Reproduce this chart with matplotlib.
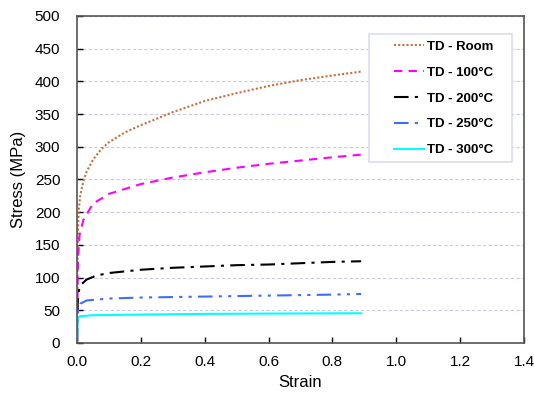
import matplotlib
matplotlib.use("Agg")
import matplotlib.pyplot as plt
from matplotlib.patches import Rectangle

plt.rcParams['font.family'] = ['Liberation Sans', 'DejaVu Sans']

room_x = [0, 0.002, 0.005, 0.01, 0.02, 0.03, 0.05, 0.075, 0.1, 0.15, 0.2, 0.3, 0.4, 0.5, 0.6, 0.7, 0.8, 0.89]
room_y = [0, 150, 200, 225, 248, 262, 280, 296, 307, 322, 333, 353, 370, 382, 393, 402, 409, 415]

t100_x = [0, 0.003, 0.008, 0.02, 0.05, 0.1, 0.2, 0.3, 0.4, 0.5, 0.6, 0.7, 0.8, 0.89]
t100_y = [0, 130, 165, 188, 213, 228, 243, 253, 261, 268, 274, 279, 284, 288]

t200_x = [0, 0.002, 0.005, 0.01, 0.03, 0.06, 0.1, 0.2, 0.3, 0.4, 0.5, 0.6, 0.7, 0.8, 0.89]
t200_y = [0, 60, 78, 88, 97, 103, 107, 112, 115, 117, 119, 120, 122, 124, 125]

t250_x = [0, 0.002, 0.005, 0.01, 0.03, 0.1, 0.2, 0.4, 0.6, 0.8, 0.89]
t250_y = [0, 45, 55, 60, 65, 68, 69.5, 71, 72.5, 74, 75]

t300_x = [0, 0.002, 0.01, 0.05, 0.2, 0.4, 0.6, 0.89]
t300_y = [0, 38, 41, 42.5, 43.5, 44.5, 45, 45.5]

labels = ['TD - Room', 'TD - 100°C', 'TD - 200°C', 'TD - 250°C', 'TD - 300°C']
x_ticks = [0.0, 0.2, 0.4, 0.6, 0.8, 1.0, 1.2, 1.4]
y_ticks = [0, 50, 100, 150, 200, 250, 300, 350, 400, 450, 500]

W, H = 534, 393
fig = plt.figure(figsize=(W/100, H/100), dpi=100)
ax = fig.add_axes([77/W, 50/H, 447/W, 327/H])

ax.plot(room_x, room_y, color='#C8703C', linestyle=(0, (1, 1)), lw=1.5, label=labels[0])
ax.plot(t100_x, t100_y, color='#FF00FF', linestyle=(0, (4, 3)), lw=1.5, label=labels[1])
ax.plot(t200_x, t200_y, color='black', linestyle=(0, (7, 3, 1.5, 3)), lw=1.5, label=labels[2])
ax.plot(t250_x, t250_y, color='#3F6BFF', linestyle=(0, (7, 3, 1.5, 3, 1.5, 3)), lw=1.5, label=labels[3])
ax.plot(t300_x, t300_y, color='#00FFFF', linestyle='-', lw=1.5, label=labels[4])

ax.set_xlim(0, 1.4)
ax.set_ylim(0, 500)
ax.set_xticks(x_ticks)
ax.set_xticklabels([f'{v:.1f}' for v in x_ticks])
ax.set_yticks(y_ticks)
ax.tick_params(direction='in', length=4, width=1, labelsize=11)
ax.tick_params(axis='y', pad=12)
ax.tick_params(axis='x', pad=9)
ax.grid(axis='y', color='#C8C8F0', linestyle=(0, (3, 2)), lw=0.8)
ax.set_axisbelow(True)
for s in ax.spines.values():
    s.set_color('#555555')
    s.set_linewidth(1.2)

ax.set_xlabel('Strain', fontsize=12, labelpad=4)
ax.set_ylabel('Stress (MPa)', fontsize=12, labelpad=6)

# legend frame
frame = Rectangle((369/W, 1 - 162/H), (512-369)/W, (162-34)/H,
                  transform=fig.transFigure, facecolor='white',
                  edgecolor='#DCDCF8', lw=1.2, zorder=4, clip_on=False)
ax.add_patch(frame)
leg = ax.legend(loc='upper left', bbox_to_anchor=(391/W, 1 - 38/H), bbox_transform=fig.transFigure,
                prop={'weight': 'bold', 'size': 9.5}, handlelength=2.3, handletextpad=0.25,
                labelspacing=1.03, borderpad=0.2, frameon=False, borderaxespad=0)
leg.set_zorder(10)

fig.savefig('out.png', dpi=100)
